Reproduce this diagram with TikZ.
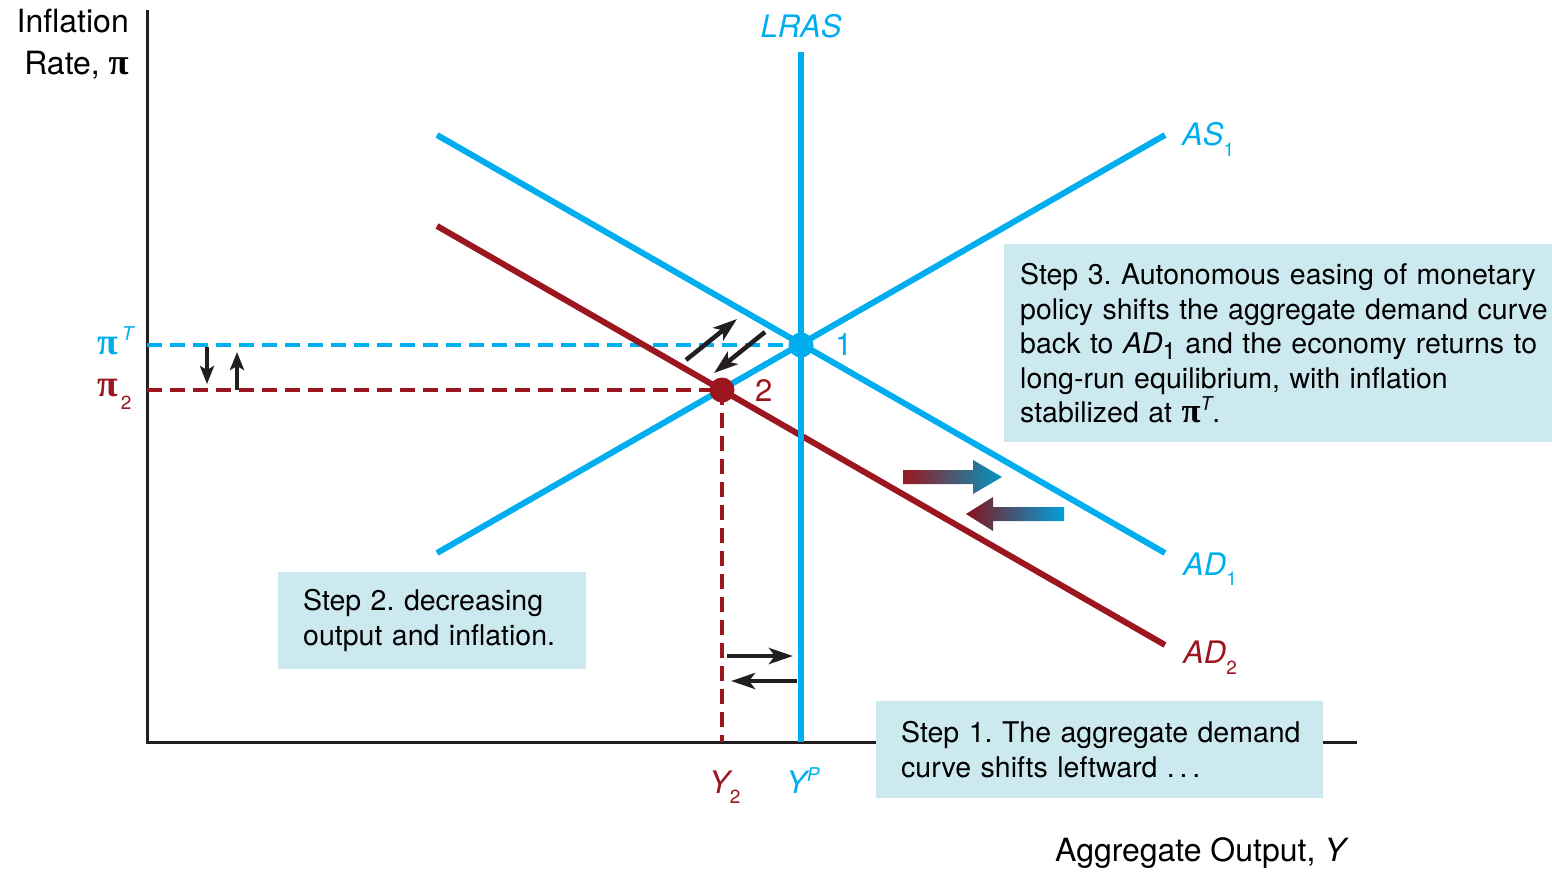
\documentclass[tikz,border=0pt]{standalone}
\usepackage{fontspec}
\setmainfont{TeX Gyre Heros}
\newfontfamily\pifont[Scale=1.22]{Liberation Serif}
\newcommand\piglyph{{\pifont\bfseries π}}
\usetikzlibrary{arrows.meta}
\definecolor{adblue}{RGB}{0,174,239}
\definecolor{adred}{RGB}{155,22,30}
\definecolor{boxfill}{RGB}{205,233,240}
\definecolor{tealend}{RGB}{0,152,195}
\definecolor{axisgray}{RGB}{35,31,32}
\begin{document}
\frenchspacing
\begin{tikzpicture}[x=1pt,y=-1pt,
  axis/.style={line width=3pt, draw=axisgray},
  curveblue/.style={line width=6pt, draw=adblue},
  curvered/.style={line width=6pt, draw=adred},
  guideblue/.style={line width=3.2pt, draw=adblue, dash pattern=on 15pt off 8pt},
  guidered/.style={line width=3.2pt, draw=adred, dash pattern=on 15pt off 8pt},
  move/.style={line width=4.5pt, draw=axisgray, -{Stealth[length=24pt,width=16pt,inset=6pt]}},
  smallmove/.style={line width=3.5pt, draw=axisgray, -{Stealth[length=18pt,width=14pt,inset=4pt]}},
  lab/.style={font=\fontsize{31}{36}\selectfont\itshape, inner sep=0pt},
  num/.style={font=\fontsize{31}{36}\selectfont, inner sep=0pt},
  axlab/.style={font=\fontsize{32}{42}\selectfont, inner sep=0pt},
  stepbox/.style={fill=boxfill, anchor=north west, align=left, inner ysep=0pt,
    font=\fontsize{28.5}{34.5}\selectfont},
  dot/.style={circle, inner sep=0pt, minimum size=25pt}
]
\useasboundingbox (0,0) rectangle (1552,873);

% axes
\coordinate (ytop) at (147,10);
\coordinate (O) at (147,742);
\coordinate (xend) at (1357,742);

% step boxes behind curves
\node[stepbox, text width=532pt, inner xsep=16pt, minimum height=198pt] (step3) at (1004,244)
  {Step 3. Autonomous easing of monetary\\
   policy shifts the aggregate demand curve\\
   back to \textit{AD}\raisebox{-0.22em}{\fontsize{24}{24}\selectfont 1} and the economy returns to\\
   long-run equilibrium, with inflation\\
   stabilized at \piglyph\raisebox{0.42em}{\fontsize{19}{19}\selectfont\itshape T}.};
\node[stepbox, text width=258pt, inner xsep=25pt, minimum height=97pt] (step2) at (278,572)
  {Step 2. decreasing\\ output and inflation.};

\draw[axis] (ytop) -- (O) -- (xend);

% step 1 box covers the axis
\node[stepbox, text width=405pt, inner xsep=21pt, minimum height=97pt] (step1) at (876,701)
  {\hspace*{4pt}Step 1. The aggregate demand\\ \hspace*{4pt}curve shifts leftward .\,.\,.};

% coordinates
\coordinate (lrasTop) at (801,52);
\coordinate (YP) at (801,742);
\coordinate (as1s) at (437,553);
\coordinate (as1e) at (1165,135);
\coordinate (ad1s) at (437,135);
\coordinate (ad1e) at (1165,553);
\coordinate (ad2s) at (437,226);
\coordinate (ad2e) at (1165,645);
\coordinate (piT) at (147,345);
\coordinate (pi2) at (147,390);
\coordinate (Y2) at (722,742);

% equilibrium points
\node[dot] (E1) at (801,345) {};
\node[dot] (E2) at (722,390) {};

% dashed guides
\draw[guideblue] (piT) -- (E1.center);
\draw[guidered] (pi2) -- (E2.center);
\draw[guidered] (E2.center) -- (Y2);

% curves
\draw[curveblue] (as1s) -- (as1e);
\draw[curveblue] (ad1s) -- (ad1e);
\draw[curvered] (ad2s) -- (ad2e);
\draw[curveblue] (lrasTop) -- (YP);

\node[dot, fill=adblue] at (E1) {};
\node[dot, fill=adred] at (E2) {};

% labels
\node[lab, text=adblue, anchor=base] (lraslab) at (801,37) {LRAS};
\node[lab, text=adblue, anchor=base west] (as1lab) at (1182,145)
  {AS\raisebox{-0.36em}{\upshape\fontsize{19}{19}\selectfont 1}};
\node[lab, text=adblue, anchor=base west] (ad1lab) at (1183,575)
  {AD\raisebox{-0.33em}{\upshape\fontsize{19}{19}\selectfont 1}};
\node[lab, text=adred, anchor=base west] (ad2lab) at (1183,663)
  {AD\raisebox{-0.38em}{\upshape\fontsize{19}{19}\selectfont 2}};
\node[num, text=adblue, anchor=west] (n1) at (835,345) {1};
\node[num, text=adred, anchor=west] (n2) at (755,391) {2};

\node[inner sep=0pt, text=adblue, anchor=base west, font=\fontsize{31}{31}\selectfont] (piTlab) at (97,354)
  {\piglyph\hspace{4pt}\raisebox{0.42em}{\fontsize{19}{19}\selectfont\itshape T}};
\node[inner sep=0pt, text=adred, anchor=base west, font=\fontsize{31}{31}\selectfont] (pi2lab) at (97,396)
  {\piglyph\hspace{3pt}\raisebox{-0.45em}{\fontsize{19}{19}\selectfont 2}};
\node[lab, text=adred, anchor=base west] (Y2lab) at (709,793)
  {Y\raisebox{-0.35em}{\upshape\fontsize{19}{19}\selectfont 2}};
\node[lab, text=adblue, anchor=base west] (YPlab) at (786,793)
  {Y\raisebox{0.38em}{\fontsize{19}{19}\selectfont P}};

\node[axlab, anchor=east, align=right] (ylab) at (129,44) {Inflation\\Rate, {\fontsize{30}{30}\selectfont\piglyph}};
\node[axlab, anchor=west] (xlab) at (1055,853) {Aggregate Output, \textit{Y}};

% movement arrows
\coordinate (a1s) at (207,347); \coordinate (a1e) at (207,384);
\coordinate (a2s) at (237,390); \coordinate (a2e) at (237,352);
\draw[smallmove] (a1s) -- (a1e);
\draw[smallmove] (a2s) -- (a2e);

\coordinate (d1s) at (686,360); \coordinate (d1e) at (737,319);
\coordinate (d2s) at (765,332); \coordinate (d2e) at (714,373);
\draw[move] (d1s) -- (d1e);
\draw[move] (d2s) -- (d2e);

\coordinate (h1s) at (727,656); \coordinate (h1e) at (793,656);
\coordinate (h2s) at (797,681); \coordinate (h2e) at (731,681);
\draw[move] (h1s) -- (h1e);
\draw[move] (h2s) -- (h2e);

% gradient shift arrows
\begin{scope}[shift={(903,477)}]
  \shade[left color=adred, right color=tealend]
    (0,-7) -- (70,-7) -- (70,-17) -- (99,0) -- (70,17) -- (70,7) -- (0,7) -- cycle;
\end{scope}
\begin{scope}[shift={(966,514)}]
  \shade[left color=adred!85!black, right color=adblue!92!black]
    (0,0) -- (27,-17) -- (27,-7) -- (98,-7) -- (98,7) -- (27,7) -- (27,17) -- cycle;
\end{scope}
\end{tikzpicture}
\end{document}
